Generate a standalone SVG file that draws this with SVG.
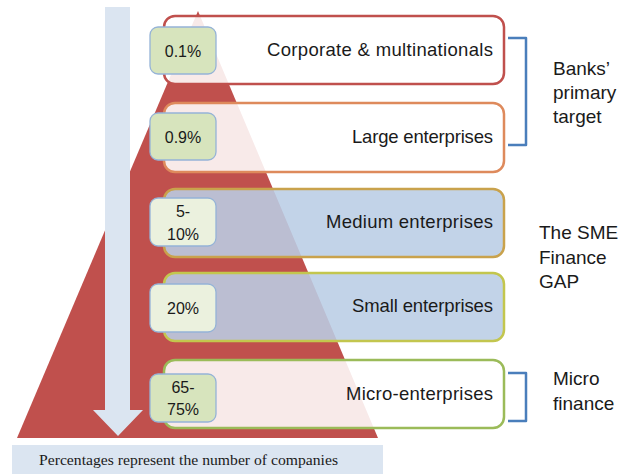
<svg xmlns="http://www.w3.org/2000/svg" width="625" height="474" viewBox="0 0 625 474">
<style>
.lbl{font-family:"Liberation Sans",Arial,sans-serif;font-size:18.5px;fill:#1a1a1a;text-anchor:end}
.pct{font-family:"Liberation Sans",Arial,sans-serif;font-size:16px;fill:#1a1a1a;text-anchor:middle}
.side{font-family:"Liberation Sans",Arial,sans-serif;font-size:19px;fill:#1a1a1a}
.cap{font-family:"Liberation Serif","Times New Roman",serif;font-size:15.5px;fill:#1a1a1a}
.pbox{stroke:#95B3D7;stroke-width:1.3}
.bx{stroke-width:2.5}
.br{fill:none;stroke:#4A7EBB;stroke-width:2.5;stroke-linejoin:round}
</style>
<rect width="625" height="474" fill="#ffffff"/>
<g id="pyramid">
<polygon points="198,11 17,438 378,438" fill="#C0504D"/>
</g>
<g id="arrow">
<polygon points="105,7 130,7 130,410 143,410 118,436 93,410 105,410" fill="#DBE5F1"/>
</g>
<g id="caption">
<rect x="12" y="445" width="371" height="29" fill="#DBE5F1"/>
<text class="cap" x="39" y="465" textLength="299" lengthAdjust="spacingAndGlyphs">Percentages represent the number of companies</text>
</g>
<g id="corporate">
<rect class="bx" x="164" y="16" width="340" height="68" rx="11" fill="#ffffff" fill-opacity="0.88" stroke="#C0504D"/>
<text class="lbl" x="493" y="56" textLength="226">Corporate &amp; multinationals</text>
</g>
<g id="large">
<rect class="bx" x="164" y="103" width="340" height="69" rx="11" fill="#ffffff" fill-opacity="0.88" stroke="#DE8A5C"/>
<text class="lbl" x="493" y="143" textLength="141">Large enterprises</text>
</g>
<g id="medium">
<rect class="bx" x="164" y="189" width="340" height="68" rx="11" fill="#B9CDE5" fill-opacity="0.88" stroke="#C9A24C"/>
<text class="lbl" x="493" y="228" textLength="167">Medium enterprises</text>
</g>
<g id="small">
<rect class="bx" x="164" y="273" width="340" height="68" rx="11" fill="#B9CDE5" fill-opacity="0.88" stroke="#C3C64E"/>
<text class="lbl" x="493" y="312" textLength="141">Small enterprises</text>
</g>
<g id="micro">
<rect class="bx" x="164" y="360" width="340" height="68" rx="11" fill="#ffffff" fill-opacity="0.88" stroke="#9BBB59"/>
<text class="lbl" x="493" y="400" textLength="147">Micro-enterprises</text>
</g>
<g id="pct1">
<rect class="pbox" x="150" y="27" width="66" height="47" rx="8" fill="#D7E4BD"/>
<text class="pct" x="183" y="57">0.1%</text>
</g>
<g id="pct2">
<rect class="pbox" x="150" y="113" width="66" height="47" rx="8" fill="#D7E4BD"/>
<text class="pct" x="183" y="143">0.9%</text>
</g>
<g id="pct3">
<rect class="pbox" x="150" y="198" width="66" height="48" rx="8" fill="#EBF1DE"/>
<text class="pct" x="183" y="217">5-</text>
<text class="pct" x="183" y="240">10%</text>
</g>
<g id="pct4">
<rect class="pbox" x="150" y="284" width="66" height="48" rx="8" fill="#EBF1DE"/>
<text class="pct" x="183" y="314">20%</text>
</g>
<g id="pct5">
<rect class="pbox" x="150" y="374" width="66" height="48" rx="8" fill="#D7E4BD"/>
<text class="pct" x="183" y="393">65-</text>
<text class="pct" x="183" y="415">75%</text>
</g>
<g id="brackets">
<path class="br" d="M508,38 H526 V145 H508"/>
<path class="br" d="M508,373 H526 V421 H508"/>
</g>
<g id="banks">
<text class="side" x="553" y="75">Banks’</text>
<text class="side" x="553" y="99">primary</text>
<text class="side" x="553" y="123">target</text>
</g>
<g id="smegap">
<text class="side" x="539" y="239">The SME</text>
<text class="side" x="539" y="264">Finance</text>
<text class="side" x="539" y="288">GAP</text>
</g>
<g id="microfinance">
<text class="side" x="553" y="385">Micro</text>
<text class="side" x="553" y="410">finance</text>
</g>
</svg>
